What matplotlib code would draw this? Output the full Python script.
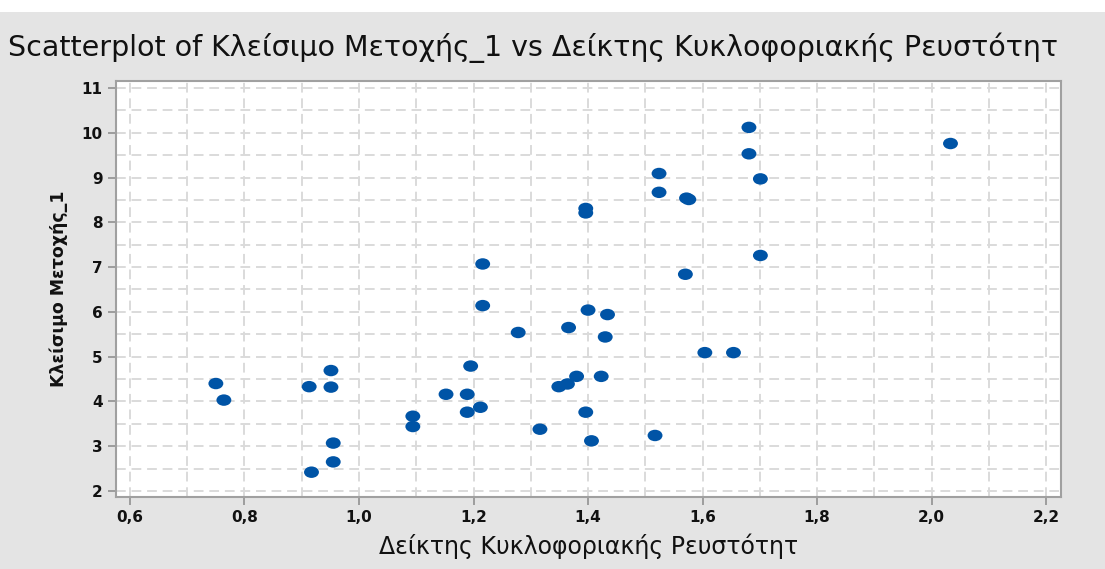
import matplotlib
matplotlib.use('Agg')
import matplotlib.pyplot as plt
from matplotlib.ticker import MultipleLocator, FuncFormatter
from matplotlib.patches import Rectangle
from matplotlib.path import Path
from matplotlib.transforms import Affine2D

plt.rcParams['font.family'] = ['DejaVu Sans']

# Δείκτης Κυκλοφοριακής Ρευστότητ (x) vs Κλείσιμο Μετοχής_1 (y)
liquidity = [0.750, 0.764, 0.913, 0.951, 0.951, 0.955, 0.955, 0.917, 1.094, 1.094,
             1.152, 1.216, 1.278, 1.366, 1.400, 1.434, 1.430, 1.604, 1.654, 1.195,
             1.189, 1.189, 1.212, 1.380, 1.349, 1.364, 1.423, 1.396, 1.316, 1.406,
             1.517, 1.216, 1.396, 1.396, 1.524, 1.524, 1.572, 1.576, 1.681, 1.681,
             1.701, 1.701, 1.570, 2.033]
closing = [4.40, 4.03, 4.33, 4.69, 4.32, 3.07, 2.65, 2.42, 3.67, 3.44,
           4.16, 6.14, 5.54, 5.65, 6.04, 5.94, 5.44, 5.09, 5.09, 4.79,
           4.16, 3.76, 3.87, 4.56, 4.33, 4.39, 4.56, 3.76, 3.38, 3.12,
           3.24, 7.07, 8.31, 8.21, 9.09, 8.67, 8.54, 8.51, 10.12, 9.53,
           8.97, 7.26, 6.84, 9.76]

fig = plt.figure(figsize=(11.05, 5.69), dpi=100)
fig.patch.set_facecolor('#e4e4e4')
# white strip along the top of the screenshot
fig.add_artist(Rectangle((0, 1 - 12 / 569), 1, 12 / 569, transform=fig.transFigure,
                         facecolor='white', edgecolor='none'))

ax = fig.add_axes([116 / 1105, 72 / 569, 945 / 1105, 416 / 569])
ax.set_facecolor('white')

# dots in the original are slightly wider than tall
ellipse = Path.unit_circle().transformed(Affine2D().scale(1.3, 1.0))
ax.scatter(liquidity, closing, s=115, marker=ellipse, color='#0054a6',
           edgecolors='none', zorder=3)

ax.set_xlim(0.5756, 2.226)
ax.set_ylim(1.866, 11.156)
ax.xaxis.set_major_locator(MultipleLocator(0.2))
ax.xaxis.set_minor_locator(MultipleLocator(0.1))
ax.yaxis.set_major_locator(MultipleLocator(1))
ax.yaxis.set_minor_locator(MultipleLocator(0.5))
ax.xaxis.set_major_formatter(FuncFormatter(lambda v, p: f'{v:.1f}'.replace('.', ',')))

ax.grid(which='both', color='#dadada', linestyle=(0, (5, 3)), linewidth=1.4, zorder=0)
ax.set_axisbelow(True)

for s in ax.spines.values():
    s.set_color('#a0a0a0')
    s.set_linewidth(1.5)
ax.tick_params(which='major', direction='out', length=6, width=1.2, color='#909090',
               labelsize=11, labelcolor='#111111')
ax.tick_params(which='minor', length=0)
for lab in ax.get_xticklabels() + ax.get_yticklabels():
    lab.set_fontweight('bold')

ax.set_xlabel('Δείκτης Κυκλοφοριακής Ρευστότητ', fontsize=17, color='#111111', labelpad=6)
ax.set_ylabel('Κλείσιμο Μετοχής_1', fontsize=12.5, fontweight='bold', color='#111111',
              labelpad=10)

fig.text(8 / 1105, 1 - 48 / 569,
         'Scatterplot of Κλείσιμο Μετοχής_1 vs Δείκτης Κυκλοφοριακής Ρευστότητ',
         fontsize=20.5, color='#111111', ha='left', va='center')

fig.savefig('out.png', dpi=100, facecolor=fig.get_facecolor())
